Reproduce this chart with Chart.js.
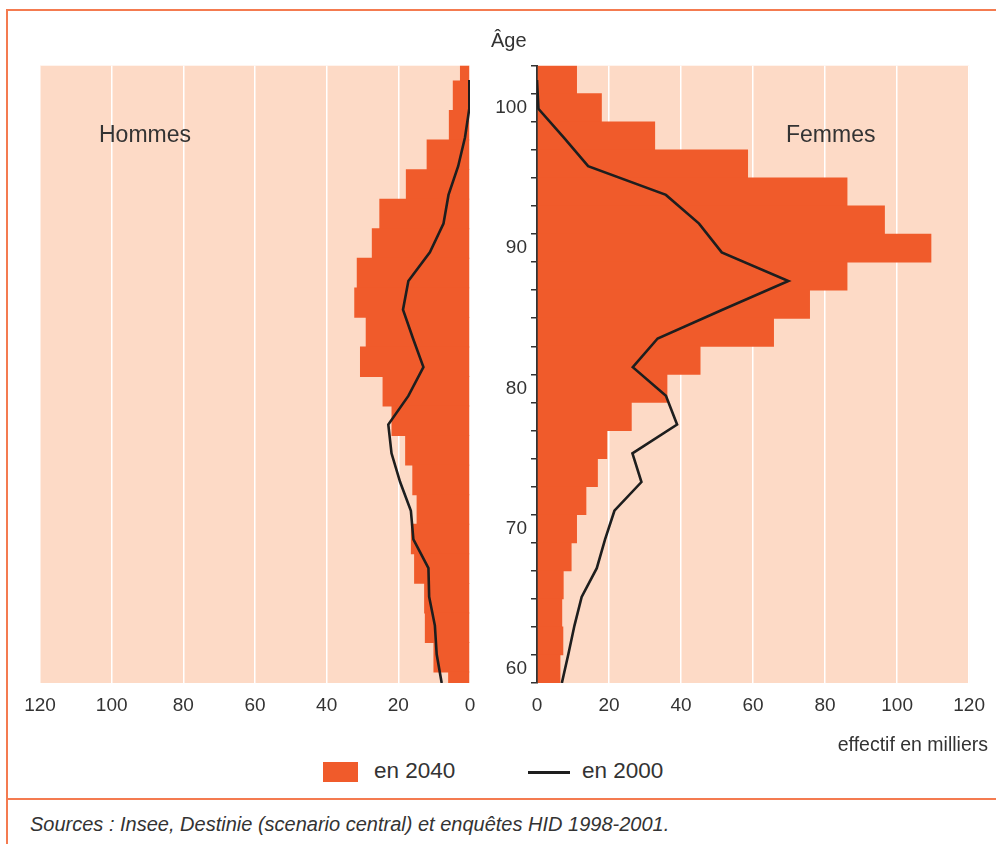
<!DOCTYPE html>
<html>
<head>
<meta charset="utf-8">
<script src="https://cdn.jsdelivr.net/npm/chart.js@4/dist/chart.umd.min.js"></script>
<style>
  body { margin: 0; background: #fff; }
  #page { position: relative; width: 996px; height: 844px; overflow: hidden; background: #fff;
          font-family: 'Liberation Sans Narrow', 'Liberation Sans', Arial, sans-serif; color: #333; }
  canvas { position: absolute; top: 0; }
  .txt { position: absolute; white-space: nowrap; z-index: 5; }
  .frame { position: absolute; background: #f47b50; }
</style>
</head>
<body>
<div id="page">
  <div class="frame" style="left:7px; top:9px; width:989px; height:2px;"></div>
  <div class="frame" style="left:6px; top:9px; width:2px; height:835px;"></div>
  <div class="frame" style="left:7px; top:798px; width:989px; height:2px;"></div>

  <canvas id="hommes" width="500" height="740" style="left:0px;"></canvas>
  <canvas id="femmes" width="516" height="740" style="left:480px;"></canvas>

  <div class="txt" style="left:491px; top:29px; font-size:20px;">Âge</div>
  <div class="txt" style="left:99px; top:121px; font-size:23px;">Hommes</div>
  <div class="txt" style="left:786px; top:121px; font-size:23px;">Femmes</div>
  <div class="txt" style="right:8px; top:733px; font-size:19.5px;">effectif en milliers</div>

  <div style="position:absolute; left:323px; top:762px; width:35px; height:20px; background:#f05b2b;"></div>
  <div class="txt" style="left:374px; top:758px; font-size:22.5px;">en 2040</div>
  <div style="position:absolute; left:528px; top:771px; width:42px; height:3px; background:#1e1e1e;"></div>
  <div class="txt" style="left:582px; top:758px; font-size:22.5px;">en 2000</div>

  <div class="txt" style="left:30px; top:813px; font-size:20px; font-style:italic;">Sources : Insee, Destinie (scenario central) et enquêtes HID 1998-2001.</div>
</div>

<script>
// ages de 102 (haut) à 60 (bas), tranches de 2 ans
const ages = [102, 100, 98, 96, 94, 92, 90, 88, 86, 84, 82, 80, 78, 76, 74, 72, 70, 68, 66, 64, 62, 60];
const ageLabels = ['100', '90', '80', '70', '60'];
const xTicks = [0, 20, 40, 60, 80, 100, 120];

// effectifs en milliers
const hommes2040 = [2.8, 4.8, 5.9, 12.1, 17.9, 25.3, 27.4, 31.6, 32.3, 29.1, 30.7, 24.4, 21.9, 18.1, 16.1, 14.9, 16.5, 15.6, 12.8, 12.6, 10.2, 6.1];
const hommes2000 = [0.2, 0.2, 1.4, 3.3, 6.0, 7.4, 11.2, 17.2, 18.7, 15.9, 13.0, 17.2, 22.8, 21.9, 19.5, 16.5, 15.8, 11.6, 11.4, 9.8, 9.3, 7.9];
const femmes2040 = [11.1, 18.0, 32.8, 58.6, 86.2, 96.6, 109.5, 86.2, 75.8, 65.8, 45.4, 36.2, 26.3, 19.5, 16.9, 13.7, 11.1, 9.6, 7.4, 7.0, 7.3, 6.5];
const femmes2000 = [0, 0.4, 7.4, 14.2, 35.8, 45.0, 51.3, 69.8, 51.5, 33.5, 26.6, 35.8, 38.9, 26.5, 29.0, 21.5, 18.9, 16.6, 12.4, 10.4, 8.7, 6.9];

const ORANGE = '#f05b2b';
const PEACH = '#fddac6';
const LINE = '#1e1e1e';
const FONT = { family: "'Liberation Sans Narrow', 'Liberation Sans', Arial, sans-serif", size: 19 };

const plotBackground = {
  id: 'plotBackground',
  beforeDraw(chart) {
    const { ctx, chartArea: a } = chart;
    ctx.save();
    ctx.fillStyle = PEACH;
    ctx.fillRect(a.left, a.top, a.width, a.height);
    ctx.restore();
  }
};

function points(values) {
  return values.map((v, i) => ({ x: v, y: ages[i] }));
}

function xScale(reverse) {
  return {
    type: 'linear',
    reverse: reverse,
    min: 0,
    max: 120,
    afterFit: s => { s.height = 57; },
    afterBuildTicks: s => { s.ticks = xTicks.map(v => ({ value: v })); },
    border: { display: false },
    grid: { color: '#ffffff', lineWidth: 1.5, drawTicks: false },
    ticks: { padding: 11, color: '#333', font: FONT }
  };
}

function hiddenAge(min, max) {
  return {
    type: 'linear',
    axis: 'y',
    display: false,
    offset: false,
    min: min,
    max: max,
    afterBuildTicks: s => { s.ticks = []; }
  };
}

// barres jointives (léger recouvrement pour éviter les liserés)
function barSet(data, axisId) {
  return {
    label: 'en 2040',
    data: data,
    yAxisID: axisId,
    backgroundColor: ORANGE,
    borderWidth: 0,
    grouped: false,
    barPercentage: 1.03,
    categoryPercentage: 1,
    order: 2
  };
}

function lineSet(values) {
  return {
    type: 'line',
    label: 'en 2000',
    indexAxis: 'y',
    data: points(values),
    yAxisID: 'yAge',
    borderColor: LINE,
    borderWidth: 2.6,
    pointRadius: 0,
    tension: 0,
    order: 1
  };
}

// Hommes : axe inversé
new Chart(document.getElementById('hommes'), {
  type: 'bar',
  plugins: [plotBackground],
  data: {
    datasets: [barSet(points(hommes2040), 'yBin'), lineSet(hommes2000)]
  },
  options: {
    indexAxis: 'y',
    responsive: false,
    animation: false,
    devicePixelRatio: 1,
    layout: { padding: { left: 40, right: 30, top: 65.7, bottom: 0 } },
    plugins: { legend: { display: false }, tooltip: { enabled: false } },
    scales: {
      x: xScale(true),
      yBin: hiddenAge(60.26, 102.03),
      yAge: hiddenAge(60, 103)
    }
  }
});

// Femmes
new Chart(document.getElementById('femmes'), {
  type: 'bar',
  plugins: [plotBackground],
  data: {
    labels: ages.map(String),
    datasets: [barSet(femmes2040, 'y'), lineSet(femmes2000)]
  },
  options: {
    indexAxis: 'y',
    responsive: false,
    animation: false,
    devicePixelRatio: 1,
    layout: { padding: { left: 0, right: 24, top: 65.7, bottom: 0 } },
    plugins: { legend: { display: false }, tooltip: { enabled: false } },
    scales: {
      x: xScale(false),
      y: {
        type: 'category',
        position: 'left',
        afterFit: s => { s.width = 57; },
        border: { display: true, color: '#333', width: 2 },
        grid: { offset: true, drawOnChartArea: false, drawTicks: true, tickLength: 6, color: '#333', lineWidth: 1.5 },
        ticks: {
          autoSkip: false,
          padding: 4,
          color: '#333',
          font: FONT,
          callback: function (v) {
            const lab = this.getLabelForValue(v);
            return ageLabels.includes(lab) ? lab : '';
          }
        }
      },
      yAge: hiddenAge(60, 103)
    }
  }
});
</script>
</body>
</html>
